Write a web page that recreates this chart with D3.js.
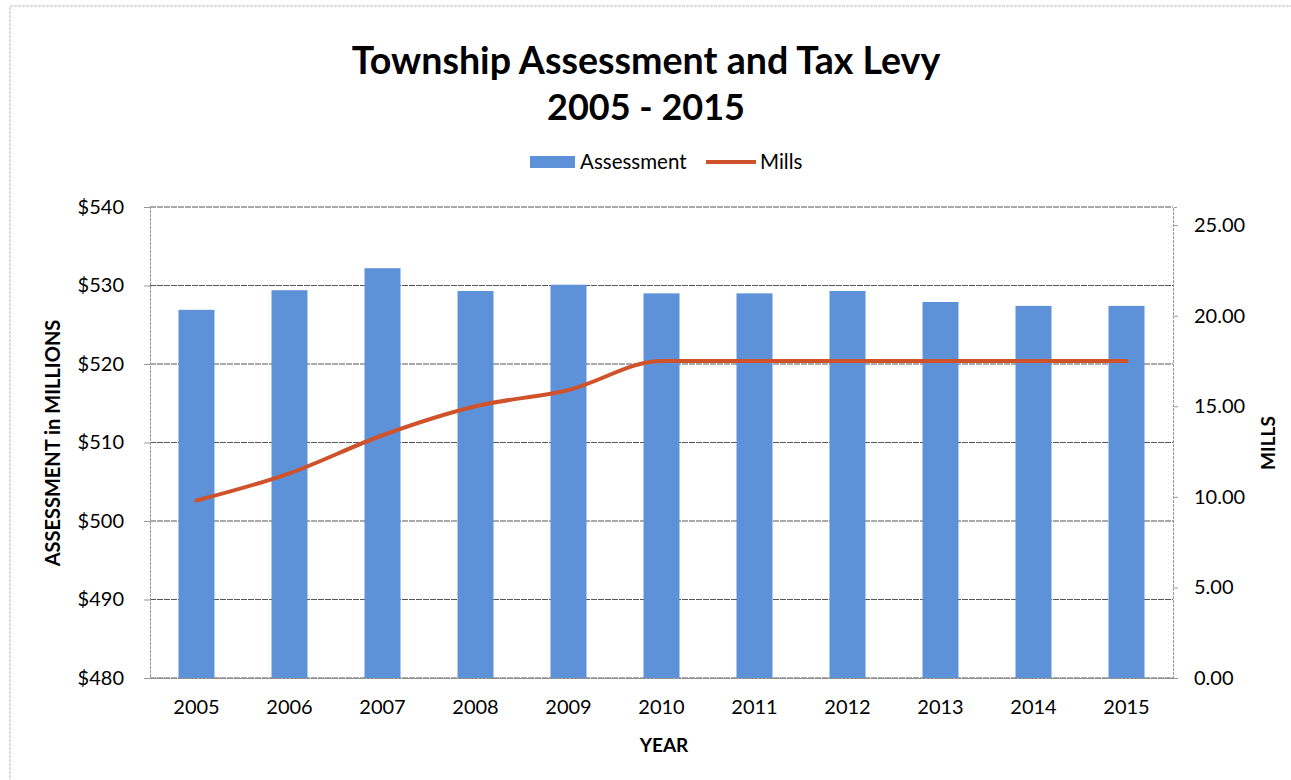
<!DOCTYPE html>
<html><head><meta charset="utf-8">
<script src="https://cdn.jsdelivr.net/npm/d3@7"></script>
<style>body{margin:0;background:#fff}svg{display:block}text{font-family:Lato,"Open Sans",sans-serif;fill:#000}</style>
</head><body>
<svg id="c" width="1291" height="780"></svg>
<script>
const years = ["2005","2006","2007","2008","2009","2010","2011","2012","2013","2014","2015"];
const assessment = [526.9, 529.4, 532.2, 529.3, 530.1, 529.0, 529.0, 529.3, 527.9, 527.4, 527.4];
const mills = [9.8, 11.3, 13.4, 15.0, 15.9, 17.5, 17.5, 17.5, 17.5, 17.5, 17.5];
const leftTicks = [480, 490, 500, 510, 520, 530, 540];
const rightTicks = [0, 5, 10, 15, 20, 25];

const svg = d3.select("#c");
const m = {l:150, r:1173, t:207, b:678};

// frame
svg.append("path").attr("d","M10,790V6H1300").attr("fill","none").attr("stroke","#bbb").attr("stroke-width",1).attr("stroke-dasharray","3,1");

const x = d3.scaleBand().domain(years).range([m.l, m.r]).paddingInner(0.613).paddingOuter(0.3065);
const yL = d3.scaleLinear().domain([480, 540]).range([m.b, m.t]);
const yR = d3.scaleLinear().domain([0, 26]).range([m.b, m.t]);

// gridlines
svg.append("g").selectAll("line").data(leftTicks).join("line")
  .attr("x1", m.l).attr("x2", m.r).attr("y1", d=>yL(d)).attr("y2", d=>yL(d))
  .attr("stroke", "#555").attr("stroke-width", 1).attr("stroke-dasharray","6,1");

// bars
svg.append("g").selectAll("rect").data(assessment).join("rect")
  .attr("x", (d,i)=>x(years[i])).attr("width", x.bandwidth())
  .attr("y", d=>yL(d)).attr("height", d=>m.b - yL(d))
  .attr("fill", "#5e92d8");

// axes
const gl = svg.append("g").attr("transform",`translate(${m.l},0)`)
  .call(d3.axisLeft(yL).tickValues(leftTicks).tickSize(6).tickPadding(20).tickFormat(d=>"$"+d));
const gr = svg.append("g").attr("transform",`translate(${m.r},0)`)
  .call(d3.axisRight(yR).tickValues(rightTicks).tickSize(5).tickPadding(16).tickFormat(d3.format(".2f")));
const gx = svg.append("g").attr("transform",`translate(0,${m.b})`)
  .call(d3.axisBottom(x).tickSize(0).tickPadding(22));
[gl,gr,gx].forEach(g=>{
  g.select(".domain").attr("stroke","#999").attr("stroke-dasharray","3,1");
  g.selectAll(".tick line").attr("stroke","#999");
  g.selectAll("text").style("font-family","Lato, sans-serif").style("font-size","20px").attr("fill","#000");
});
gx.select(".domain").attr("stroke","#888");

// line
const line = d3.line().x((d,i)=>x(years[i]) + x.bandwidth()/2).y(d=>yR(d)).curve(d3.curveMonotoneX);
svg.append("path").datum(mills).attr("d", line).attr("fill","none")
  .attr("stroke","#d0522a").attr("stroke-width",4).attr("stroke-linecap","round");

// titles
svg.append("text").attr("x",646).attr("y",74).attr("text-anchor","middle")
  .style("font-size","37.6px").style("font-weight","bold").attr("fill","#222").text("Township Assessment and Tax Levy");
svg.append("text").attr("x",646).attr("y",120).attr("text-anchor","middle")
  .style("font-size","36px").style("font-weight","bold").attr("fill","#222").text("2005 - 2015");

// legend
svg.append("rect").attr("x",530).attr("y",156).attr("width",45).attr("height",12).attr("fill","#5e92d8");
svg.append("text").attr("x",580).attr("y",169).style("font-size","20.5px").text("Assessment");
svg.append("line").attr("x1",706).attr("x2",756).attr("y1",162).attr("y2",162).attr("stroke","#d0522a").attr("stroke-width",4);
svg.append("text").attr("x",760).attr("y",169).style("font-size","20.5px").text("Mills");

// axis titles
svg.append("text").attr("transform","translate(60,443) rotate(-90)").attr("text-anchor","middle")
  .style("font-size","20px").style("font-weight","bold").text("ASSESSMENT in MILLIONS");
svg.append("text").attr("transform","translate(1275,443) rotate(-90)").attr("text-anchor","middle")
  .style("font-size","19px").style("font-weight","bold").text("MILLS");
svg.append("text").attr("x",664).attr("y",752).attr("text-anchor","middle")
  .style("font-size","19px").style("font-weight","bold").text("YEAR");
</script>
</body></html>
